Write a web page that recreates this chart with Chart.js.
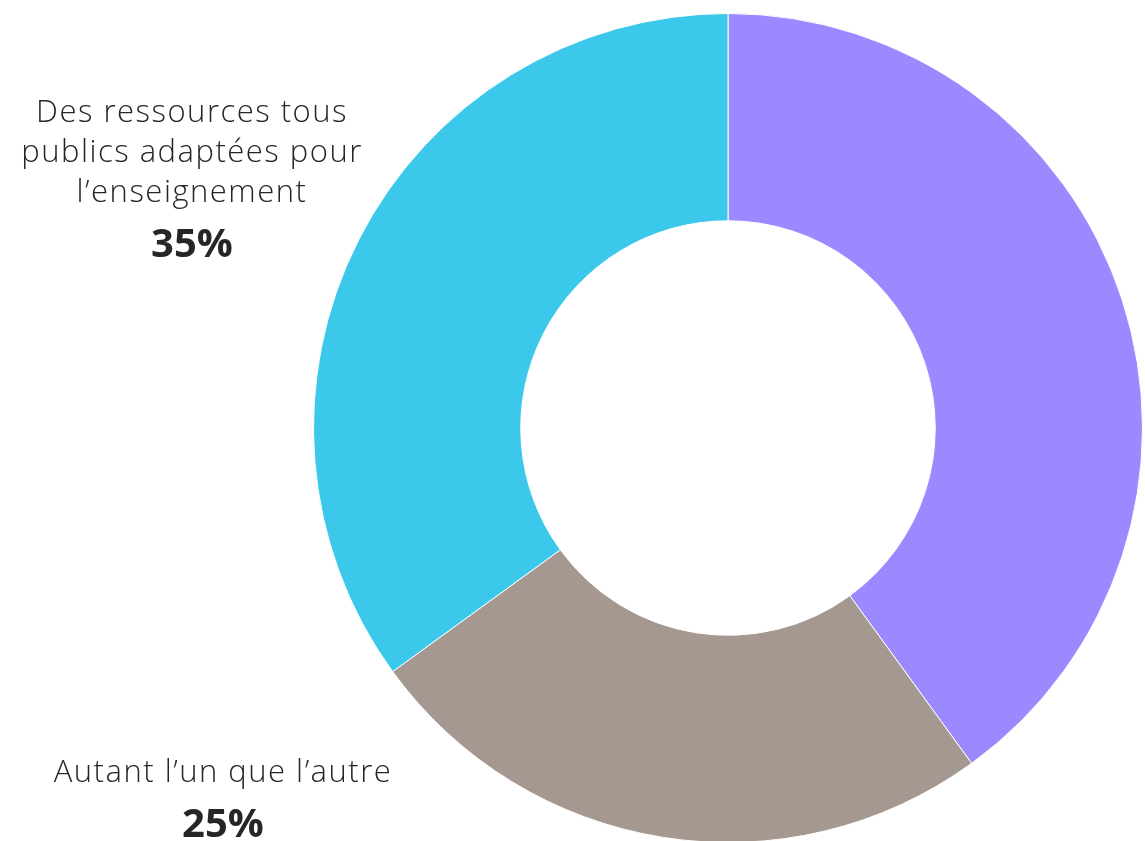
<!DOCTYPE html>
<html>
<head>
<meta charset="utf-8">
<script src="https://cdn.jsdelivr.net/npm/chart.js@4/dist/chart.umd.min.js"></script>
<style>
  html, body { margin: 0; padding: 0; background: #ffffff; overflow: hidden; width: 1145px; height: 841px; }
  #wrap { position: absolute; left: 0; top: 0; width: 1145px; height: 860px; }
</style>
</head>
<body>
<div id="wrap"><canvas id="c"></canvas></div>
<script>
// Data
const categories = ['', 'Autant l’un que l’autre', 'Des ressources tous publics adaptées pour l’enseignement'];
const values = [40, 25, 35];
const sliceColors = ['#9b8aff', '#a59890', '#3cc8ea'];
const showLabel = [false, true, true];
// label lines per category (wrapped as in the picture)
const labelLines = [[], ['Autant l’un que l’autre'], ['Des ressources tous', 'publics adaptées pour', 'l’enseignement']];

const labelPlugin = {
  id: 'sideLabels',
  afterDraw(chart, args, opts) {
    const ctx = chart.ctx;
    const ds = chart.data.datasets[0];
    const total = ds.data.reduce((a, b) => a + b, 0);
    ctx.save();
    ctx.textAlign = 'center';
    ctx.textBaseline = 'middle';
    ds.data.forEach((v, i) => {
      if (!opts.show[i]) return;
      const pos = opts.positions[i];
      const lines = opts.lines[i];
      ctx.fillStyle = '#262626';
      ctx.font = '300 31px "Open Sans"';
      ctx.letterSpacing = '1.5px';
      lines.forEach((ln, k) => {
        ctx.fillText(ln, pos.x, pos.y + k * opts.lineHeight);
      });
      ctx.letterSpacing = '0px';
      ctx.font = 'bold 40px "Open Sans"';
      ctx.fillStyle = '#262626';
      const pct = Math.round(v / total * 100) + '%';
      ctx.fillText(pct, pos.x, pos.y + (lines.length - 1) * opts.lineHeight + opts.pctGap);
    });
    ctx.restore();
  }
};

new Chart(document.getElementById('c'), {
  type: 'doughnut',
  data: {
    labels: categories,
    datasets: [{
      data: values,
      backgroundColor: sliceColors,
      borderColor: '#ffffff',
      borderWidth: 1
    }]
  },
  options: {
    responsive: true,
    maintainAspectRatio: false,
    animation: false,
    cutout: '50%',
    layout: { padding: { left: 313, right: 2, top: 13, bottom: 17 } },
    plugins: {
      legend: { display: false },
      tooltip: { enabled: false },
      sideLabels: {
        show: showLabel,
        lines: labelLines,
        lineHeight: 40,
        pctGap: 53,
        positions: [null, { x: 223, y: 773 }, { x: 192, y: 113 }]
      }
    }
  },
  plugins: [labelPlugin]
});
</script>
</body>
</html>
